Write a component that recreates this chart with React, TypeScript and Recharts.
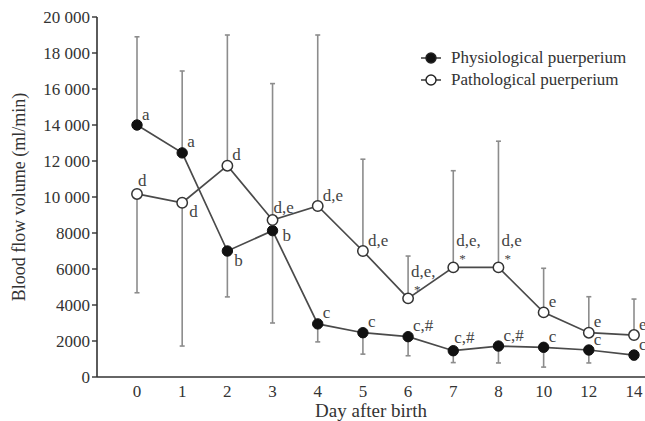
import React from 'react';
import { LineChart, Line, XAxis, YAxis, ErrorBar, LabelList, Legend, Label } from 'recharts';

const FONT = '"Liberation Serif", "Times New Roman", serif';

const days = ['0', '1', '2', '3', '4', '5', '6', '7', '8', '10', '12', '14'];

const physMean = [14000, 12450, 7000, 8130, 2950, 2460, 2240, 1460, 1720, 1650, 1500, 1220];
const physUpper: (number | null)[] = [18900, 17000, null, null, null, null, null, null, null, null, null, null];
const physLower: (number | null)[] = [null, null, 4450, 3000, 1950, 1270, 1180, 800, 780, 550, 780, 950];
const physLabels = ['a', 'a', 'b', 'b', 'c', 'c', 'c,#', 'c,#', 'c,#', 'c', 'c', 'c'];
const physPlacement = ['ne', 'ne', 'se', 'e', 'ne', 'ne', 'ne', 'n', 'ne', 'ne', 'ne', 'ne'];

const pathMean = [10170, 9680, 11740, 8720, 9500, 7000, 4370, 6090, 6090, 3590, 2460, 2330];
const pathUpper: (number | null)[] = [null, null, 19000, 16300, 19000, 12100, 6720, 11460, 13100, 6040, 4460, 4330];
const pathLower: (number | null)[] = [4680, 1720, null, null, null, null, null, null, null, null, null, null];
const pathLabels = ['d', 'd', 'd', 'd,e', 'd,e', 'd,e', 'd,e,', 'd,e,', 'd,e', 'e', 'e', 'e'];
const pathStar = [false, false, false, false, false, false, true, true, true, false, false, false];
const pathPlacement = ['n', 'se', 'ne', 'n', 'ne', 'ne', 'star', 'star', 'star', 'ne', 'ne', 'ne'];

const yTicks = [0, 2000, 4000, 6000, 8000, 10000, 12000, 14000, 16000, 18000, 20000];

const data = days.map((day, i) => ({
  day,
  phys: physMean[i],
  path: pathMean[i],
  physErr: [
    physLower[i] != null ? physMean[i] - (physLower[i] as number) : 0,
    physUpper[i] != null ? (physUpper[i] as number) - physMean[i] : 0,
  ],
  pathErr: [
    pathLower[i] != null ? pathMean[i] - (pathLower[i] as number) : 0,
    pathUpper[i] != null ? (pathUpper[i] as number) - pathMean[i] : 0,
  ],
  physLabel: physLabels[i],
  pathLabel: pathLabels[i],
}));

const OFFSETS: Record<string, [number, number]> = {
  ne: [5, -11],
  n: [1, -13],
  e: [10, 5],
  se: [7, 9],
  star: [3, -27],
};

const fmt = (v: number) => (v >= 10000 ? `${Math.floor(v / 1000)} ${String(v % 1000).padStart(3, '0')}` : String(v));

const makeLabel = (placements: string[], stars?: boolean[]) => (props: any) => {
  const { x, y, value, index } = props;
  if (x == null || y == null) return null;
  const [dx, dy] = OFFSETS[placements[index]] || OFFSETS.ne;
  return (
    <g>
      <text x={x + dx} y={y + dy} dominantBaseline="central" textAnchor="start" fontSize={17} fontFamily={FONT} fill="#444">
        {value}
      </text>
      {stars && stars[index] ? (
        <text x={x + 6} y={y - 9} dominantBaseline="central" textAnchor="start" fontSize={13} fontFamily={FONT} fill="#444">
          *
        </text>
      ) : null}
    </g>
  );
};

const LegendContent = () => {
  const rows = [
    { name: 'Physiological puerperium', fill: '#111' },
    { name: 'Pathological puerperium', fill: '#fff' },
  ];
  return (
    <div style={{ fontFamily: FONT, fontSize: 17, color: '#333', lineHeight: '22px' }}>
      {rows.map((r) => (
        <div key={r.name} style={{ display: 'flex', alignItems: 'center', height: 22 }}>
          <svg width={24} height={14} style={{ marginRight: 8 }}>
            <line x1={2} y1={7} x2={22} y2={7} stroke="#444" strokeWidth={1.6} />
            <circle cx={12} cy={7} r={5} fill={r.fill} stroke="#222" strokeWidth={1.4} />
          </svg>
          <span>{r.name}</span>
        </div>
      ))}
    </div>
  );
};

export default function App() {
  return (
    <div style={{ position: 'absolute', left: 0, top: 0, width: 645, height: 421, background: '#fff' }}>
      <LineChart width={645} height={421} data={data} margin={{ top: 17, right: 0, bottom: 0, left: 0 }}>
        <XAxis
          dataKey="day"
          type="category"
          padding={{ left: 40, right: 11 }}
          height={44}
          tickLine={false}
          axisLine={{ stroke: '#333', strokeWidth: 1.6 }}
          tick={{ fontSize: 17, fill: '#333', fontFamily: FONT }}
          interval={0}
        >
          <Label
            content={(p: any) => {
              const vb = p.viewBox || {};
              return (
                <text x={vb.x + vb.width / 2} y={vb.y + 33} textAnchor="middle" dominantBaseline="central" fontSize={19} fontFamily={FONT} fill="#333">
                  Day after birth
                </text>
              );
            }}
          />
        </XAxis>
        <YAxis
          width={97}
          domain={[0, 20000]}
          ticks={yTicks}
          tickFormatter={fmt}
          tickSize={5}
          tickLine={{ stroke: '#333', strokeWidth: 1.4 }}
          axisLine={{ stroke: '#333', strokeWidth: 1.6 }}
          tick={{ fontSize: 17, fill: '#333', fontFamily: FONT }}
          interval={0}
        >
          <Label
            content={(p: any) => {
              const vb = p.viewBox || {};
              const cx = vb.x + 19;
              const cy = vb.y + vb.height / 2;
              return (
                <text x={cx} y={cy} transform={`rotate(-90 ${cx} ${cy})`} textAnchor="middle" dominantBaseline="central" fontSize={18} fontFamily={FONT} fill="#333">
                  Blood flow volume (ml/min)
                </text>
              );
            }}
          />
        </YAxis>
        <Legend layout="vertical" align="center" verticalAlign="middle" content={<LegendContent />} wrapperStyle={{ left: 419, top: 47, width: 230, height: 50 }} />
        <Line
          dataKey="phys"
          type="linear"
          stroke="#4a4a4a"
          strokeWidth={1.7}
          dot={{ r: 5.2, fill: '#111', stroke: '#111', strokeWidth: 1 }}
          activeDot={false}
          isAnimationActive={false}
        >
          <ErrorBar dataKey="physErr" direction="y" width={2.5} stroke="#8c8c8c" strokeWidth={1.6} isAnimationActive={false} />
          <LabelList dataKey="physLabel" content={makeLabel(physPlacement)} />
        </Line>
        <Line
          dataKey="path"
          type="linear"
          stroke="#4a4a4a"
          strokeWidth={1.7}
          dot={{ r: 5.2, fill: '#fff', stroke: '#333', strokeWidth: 1.5 }}
          activeDot={false}
          isAnimationActive={false}
        >
          <ErrorBar dataKey="pathErr" direction="y" width={2.5} stroke="#8c8c8c" strokeWidth={1.6} isAnimationActive={false} />
          <LabelList dataKey="pathLabel" content={makeLabel(pathPlacement, pathStar)} />
        </Line>
      </LineChart>
    </div>
  );
}
